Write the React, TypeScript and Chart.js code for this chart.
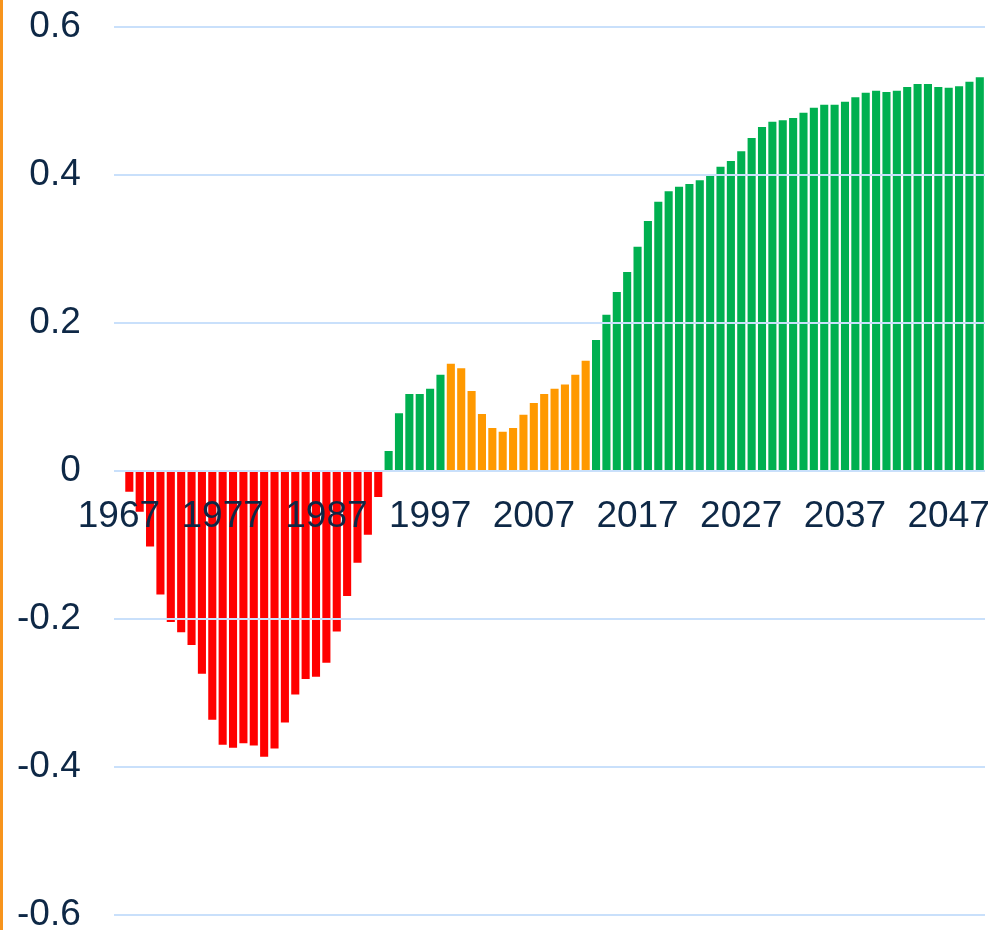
import React, { useEffect, useRef } from "react";
import { Chart, registerables } from "chart.js";

Chart.register(...registerables);

const FIRST_YEAR = 1967;
const LAST_YEAR = 2050;
const years: string[] = [];
for (let y = FIRST_YEAR; y <= LAST_YEAR; y++) years.push(String(y));

// 1967
const values1967 = [0];
// 1968–1992 (negative)
const valuesDeficit = [
  -0.028, -0.055, -0.102, -0.167, -0.204, -0.218, -0.235, -0.274, -0.336, -0.37,
  -0.374, -0.368, -0.371, -0.386, -0.375, -0.34, -0.302, -0.281, -0.278, -0.259,
  -0.217, -0.169, -0.124, -0.086, -0.035,
];
// 1993–1998
const valuesEarlyGrowth = [0.027, 0.078, 0.104, 0.104, 0.111, 0.13];
// 1999–2012 (orange)
const valuesDip = [
  0.145, 0.139, 0.108, 0.077, 0.058, 0.053, 0.058, 0.076, 0.092, 0.104, 0.111,
  0.117, 0.13, 0.149,
];
// 2013–2050
const valuesLateGrowth = [
  0.177, 0.211, 0.242, 0.269, 0.303, 0.338, 0.364, 0.378, 0.384, 0.388, 0.393,
  0.401, 0.411, 0.419, 0.432, 0.45, 0.465, 0.472, 0.474, 0.477, 0.484, 0.491,
  0.495, 0.495, 0.499, 0.505, 0.511, 0.514, 0.512, 0.514, 0.519, 0.523, 0.523,
  0.519, 0.518, 0.52, 0.526, 0.532,
];

const DIP_START = 1999;
const DIP_END = 2012;
const yTicks = [-0.6, -0.4, -0.2, 0, 0.2, 0.4, 0.6];

const RED = "#ff0000";
const GREEN = "#00b050";
const ORANGE = "#ff9900";
const TEXT = "#0e2846";
const GRID = "#c9e0fb";
const FONT = "'Liberation Sans', Arial, sans-serif";

export default function App() {
  const canvasRef = useRef<HTMLCanvasElement | null>(null);

  useEffect(() => {
    document.body.style.margin = "0";
    const values = [
      ...values1967,
      ...valuesDeficit,
      ...valuesEarlyGrowth,
      ...valuesDip,
      ...valuesLateGrowth,
    ];
    const colors = values.map((v, i) => {
      const yr = FIRST_YEAR + i;
      if (v < 0) return RED;
      if (yr >= DIP_START && yr <= DIP_END) return ORANGE;
      return GREEN;
    });
    const ctx = canvasRef.current!.getContext("2d")!;
    const chart = new Chart(ctx, {
      type: "bar",
      data: {
        labels: years,
        datasets: [
          {
            data: values,
            backgroundColor: colors,
            borderWidth: 0,
            categoryPercentage: 1,
            barPercentage: 0.78,
          },
        ],
      },
      options: {
        animation: false,
        responsive: false,
        maintainAspectRatio: false,
        layout: { padding: { left: 14, right: 7, top: 27, bottom: 15 } },
        plugins: {
          legend: { display: false },
          tooltip: { enabled: false },
        },
        scales: {
          x: {
            position: { y: 0 } as any,
            grid: {
              display: true,
              drawOnChartArea: false,
              drawTicks: true,
              tickLength: 24,
              color: "rgba(0,0,0,0)",
              tickColor: "rgba(0,0,0,0)",
            },
            border: { display: false },
            ticks: {
              z: 1,
              autoSkip: false,
              maxRotation: 0,
              minRotation: 0,
              padding: 0,
              color: TEXT,
              font: { family: FONT, size: 37 },
              callback: (_v: any, i: number) =>
                i % 10 === 0 ? years[i] : "",
            },
          },
          y: {
            min: -0.6,
            max: 0.6,
            afterBuildTicks: (scale: any) => {
              scale.ticks = yTicks.map((v) => ({ value: v }));
            },
            grid: {
              z: 1,
              color: GRID,
              lineWidth: 2,
              drawTicks: true,
              tickLength: 33,
              tickColor: "rgba(0,0,0,0)",
            },
            border: { display: false },
            ticks: {
              padding: 0,
              color: TEXT,
              font: { family: FONT, size: 37, lineHeight: 0.8 },
              callback: (v: any) => {
                const r = Math.round(Number(v) * 10) / 10;
                return r === 0 ? "0" : String(r);
              },
            },
          },
        },
      },
    });
    return () => chart.destroy();
  }, []);

  return (
    <div
      style={{
        borderLeft: "3px solid #f7941d",
        width: 989,
        height: 930,
        overflow: "hidden",
      }}
    >
      <canvas
        ref={canvasRef}
        width={989}
        height={930}
        style={{ display: "block", width: 989, height: 930 }}
      />
    </div>
  );
}
